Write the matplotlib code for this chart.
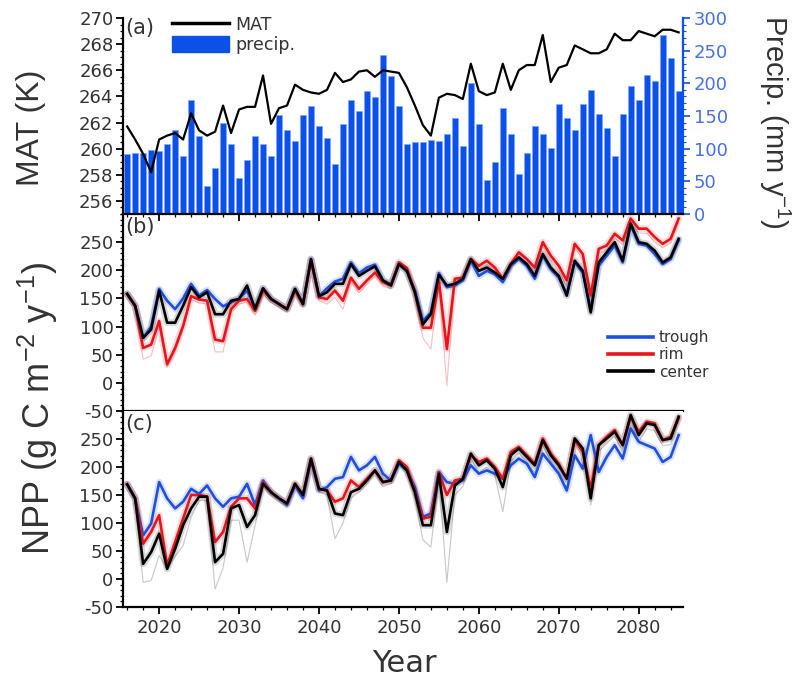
import numpy as np
import matplotlib
matplotlib.use("Agg")
import matplotlib.pyplot as plt
from matplotlib.lines import Line2D
from matplotlib.patches import Patch
from matplotlib.ticker import MultipleLocator

plt.rcParams['font.family'] = ['DejaVu Sans']
plt.rcParams['axes.unicode_minus'] = False
plt.rcParams['mathtext.default'] = 'regular'

years = np.arange(2016, 2086)

mat = [261.7, 260.7, 259.6, 258.2, 260.7, 261.0, 261.2, 260.7, 262.7, 261.4,
       261.0, 261.3, 263.3, 261.2, 263.0, 263.2, 263.2, 265.6, 261.9, 263.1,
       263.3, 264.9, 264.5, 264.3, 264.2, 264.5, 265.8, 265.1, 265.3, 265.9,
       266.0, 265.5, 266.0, 265.9, 265.8, 264.7, 263.3, 261.8, 261.0, 263.9,
       264.2, 264.1, 263.8, 266.5, 264.4, 264.1, 264.3, 266.5, 264.5, 266.0,
       266.4, 266.4, 268.7, 265.1, 266.2, 266.4, 267.9, 267.6, 267.3, 267.3,
       267.6, 268.8, 268.3, 268.3, 269.0, 268.8, 268.6, 269.1, 269.1, 268.9]

precip = [92, 94, 94, 98, 96, 107, 129, 89, 175, 119,
          43, 70, 140, 107, 55, 83, 120, 107, 89, 151,
          129, 112, 151, 166, 135, 117, 76, 138, 175, 157,
          188, 179, 243, 211, 166, 107, 110, 110, 113, 111,
          123, 147, 104, 200, 138, 52, 79, 162, 122, 61,
          94, 135, 123, 101, 169, 147, 129, 169, 190, 153,
          131, 89, 153, 196, 175, 212, 203, 274, 239, 188]

trough_b = [158, 137, 80, 100, 167, 146, 131, 150, 176, 155,
            165, 149, 136, 143, 150, 164, 133, 168, 149, 140,
            131, 167, 140, 220, 154, 168, 180, 185, 214, 195,
            205, 210, 182, 175, 211, 198, 165, 110, 125, 195,
            170, 173, 182, 217, 190, 199, 193, 179, 208, 220,
            208, 185, 226, 202, 187, 158, 214, 196, 131, 208,
            226, 244, 214, 280, 247, 244, 229, 211, 220, 253]
rim_b = [158, 137, 62, 68, 110, 33, 62, 101, 154, 148,
         146, 77, 74, 131, 146, 149, 128, 164, 149, 140,
         131, 164, 140, 217, 152, 149, 164, 146, 187, 167,
         182, 196, 179, 173, 214, 204, 161, 98, 98, 182,
         60, 185, 187, 220, 208, 217, 205, 185, 211, 232,
         220, 205, 250, 226, 208, 182, 247, 229, 155, 238,
         244, 265, 253, 292, 274, 274, 259, 247, 256, 292]
center_b = [158, 137, 80, 95, 164, 107, 107, 137, 170, 152,
            161, 122, 122, 146, 149, 173, 131, 168, 149, 140,
            131, 167, 140, 220, 154, 161, 176, 176, 211, 190,
            199, 207, 182, 173, 211, 199, 161, 104, 122, 192,
            173, 176, 185, 220, 199, 205, 196, 185, 211, 223,
            211, 190, 229, 205, 190, 155, 217, 199, 125, 214,
            232, 250, 217, 283, 250, 247, 235, 214, 223, 256]
rim_lo_b = [155, 132, 42, 48, 100, 28, 55, 95, 148, 142,
            140, 55, 55, 125, 140, 143, 120, 158, 143, 135,
            126, 158, 135, 212, 146, 140, 152, 131, 180, 160,
            176, 190, 172, 167, 208, 198, 152, 80, 60, 175,
            -5, 178, 180, 214, 200, 210, 198, 178, 204, 225,
            213, 198, 243, 218, 200, 172, 240, 220, 140, 230,
            236, 258, 245, 285, 266, 266, 250, 240, 248, 285]

trough_c = [169, 144, 78, 99, 173, 144, 126, 138, 161, 152,
            167, 144, 129, 144, 147, 170, 132, 176, 155, 144,
            132, 167, 144, 212, 158, 164, 179, 182, 218, 194,
            203, 218, 188, 176, 206, 194, 164, 111, 117, 191,
            173, 170, 176, 203, 188, 194, 188, 179, 203, 215,
            206, 182, 224, 206, 188, 158, 221, 197, 257, 191,
            218, 239, 215, 269, 245, 239, 233, 209, 218, 257]
rim_c = [169, 144, 63, 84, 114, 24, 66, 108, 150, 150,
         147, 66, 84, 129, 144, 144, 126, 173, 155, 144,
         135, 170, 150, 215, 161, 158, 138, 144, 176, 164,
         179, 194, 173, 176, 212, 200, 158, 108, 111, 191,
         150, 176, 179, 221, 209, 215, 200, 179, 227, 236,
         221, 206, 251, 224, 206, 179, 248, 227, 161, 239,
         254, 266, 239, 290, 263, 281, 278, 248, 254, 287]
center_c = [169, 144, 27, 48, 81, 18, 54, 96, 126, 147,
            147, 30, 45, 126, 132, 93, 114, 170, 155, 144,
            135, 170, 150, 215, 161, 158, 117, 114, 155, 161,
            176, 194, 173, 176, 209, 194, 155, 96, 96, 188,
            84, 167, 179, 224, 203, 212, 197, 164, 221, 233,
            218, 203, 248, 221, 203, 179, 251, 233, 144, 239,
            251, 263, 239, 293, 257, 278, 275, 248, 251, 290]
center_lo_c = [165, 138, -6, -3, 42, 18, 40, 60, 110, 140,
               140, -18, 20, 105, 105, 30, 95, 165, 150, 140,
               128, 165, 145, 210, 155, 150, 72, 100, 145, 155,
               170, 190, 165, 170, 205, 188, 145, 70, 57, 180,
               -6, 150, 165, 215, 190, 200, 185, 120, 210, 225,
               208, 190, 240, 210, 190, 160, 240, 220, 132, 228,
               242, 255, 228, 285, 245, 268, 265, 238, 240, 282]

BLUE = '#1f4fe0'
RED = '#e8141c'
BAR = '#0b50e8'
TXT = '#333333'
LABEL_FONT = ['Liberation Sans', 'DejaVu Sans']

fig = plt.figure(figsize=(8.05, 6.84), dpi=100)
L, R = 0.153, 0.848
bounds = [0.1126, 0.3991, 0.6871, 0.9737]

ax_a = fig.add_axes([L, bounds[2], R - L, bounds[3] - bounds[2]])
ax_b = fig.add_axes([L, bounds[1], R - L, bounds[2] - bounds[1]])
ax_c = fig.add_axes([L, bounds[0], R - L, bounds[1] - bounds[0]])
ax_p = ax_a.twinx()

# Panel (a)
ax_p.bar(years, precip, width=0.78, color=BAR, edgecolor='#7fa8ff', linewidth=0.4)
ax_a.plot(years, mat, color='black', lw=1.6)
ax_a.set_zorder(ax_p.get_zorder() + 1)
ax_a.patch.set_visible(False)
ax_a.set_ylim(255, 270)
ax_a.set_yticks(np.arange(256, 271, 2))
ax_a.yaxis.set_minor_locator(MultipleLocator(0.5))
ax_p.set_ylim(0, 300)
ax_p.set_yticks(np.arange(0, 301, 50))
ax_p.yaxis.set_minor_locator(MultipleLocator(10))
ax_p.tick_params(axis='y', which='both', colors=BAR, labelcolor='#4a6ee6', labelsize=13, direction='out')
ax_p.tick_params(axis='y', which='major', length=5, width=1.2, pad=3)
ax_p.tick_params(axis='y', which='minor', length=2.5, width=0.8)
ax_p.spines['right'].set_color(BAR)
ax_p.spines['right'].set_linewidth(1.6)

# Panels (b), (c)
def npp_panel(ax, trough, rim, center, faint, faint_color):
    ax.plot(years, faint, color=faint_color, lw=0.8, alpha=0.5)
    for series, col in ((trough, BLUE), (rim, RED), (center, 'black')):
        ax.plot(years, series, color=col, lw=5, alpha=0.15, solid_capstyle='round')
    ax.plot(years, trough, color=BLUE, lw=1.9, label='trough')
    ax.plot(years, rim, color=RED, lw=1.9, label='rim')
    ax.plot(years, center, color='black', lw=1.9, label='center')
    ax.set_ylim(-50, 300)
    ax.set_yticks(np.arange(-50, 251, 50))
    ax.yaxis.set_minor_locator(MultipleLocator(10))

npp_panel(ax_b, trough_b, rim_b, center_b, rim_lo_b, '#f08080')
npp_panel(ax_c, trough_c, rim_c, center_c, center_lo_c, '#909090')

for ax in (ax_a, ax_b, ax_c):
    ax.set_xlim(2015.5, 2085.5)
    ax.xaxis.set_major_locator(MultipleLocator(10))
    ax.xaxis.set_minor_locator(MultipleLocator(2))
    ax.tick_params(axis='both', which='both', direction='out', labelsize=13, labelcolor=TXT)
    ax.tick_params(axis='both', which='major', length=5, width=1.3)
    ax.tick_params(axis='both', which='minor', length=2.5, width=0.9)
    ax.tick_params(axis='y', which='major', pad=2)
    for s in ax.spines.values():
        s.set_linewidth(1.6)
    ax.spines['top'].set_visible(False)
    ax.spines['right'].set_visible(False)
for ax in (ax_a, ax_b):
    ax.tick_params(axis='x', labelbottom=False)
ax_p.spines['top'].set_visible(False)
ax_p.spines['left'].set_visible(False)
ax_p.spines['bottom'].set_visible(False)
ax_c.tick_params(axis='x', which='major', pad=4)

# Panel labels
ax_a.text(0.004, 1.0, '(a)', transform=ax_a.transAxes, ha='left', va='top', fontsize=15, color=TXT)
ax_b.text(0.004, 0.985, '(b)', transform=ax_b.transAxes, ha='left', va='top', fontsize=15, color=TXT)
ax_c.text(0.004, 0.985, '(c)', transform=ax_c.transAxes, ha='left', va='top', fontsize=15, color=TXT)

# Legend (a)
handles_a = [Line2D([0], [0], color='black', lw=2.5), Patch(facecolor=BAR, edgecolor=BAR)]
leg_a = ax_a.legend(handles_a, ['MAT', 'precip.'], loc='upper left', bbox_to_anchor=(0.075, 1.045),
                    frameon=False, fontsize=12.5, handlelength=3.3, handleheight=1.0,
                    handletextpad=0.35, labelspacing=0.1, borderaxespad=0.0)
for t in leg_a.get_texts():
    t.set_color(TXT)

# Legend (b)
leg_b = ax_b.legend(loc='center left', bbox_to_anchor=(0.855, 0.285), frameon=False, fontsize=11,
                    handlelength=3.0, handletextpad=0.35, labelspacing=0.15, borderaxespad=0.0)
for t in leg_b.get_texts():
    t.set_color(TXT)
for h in leg_b.legend_handles:
    h.set_linewidth(2.6)

# Axis labels
fig.text(0.039, 1 - 128 / 684, 'MAT (K)', rotation=90, ha='center', va='center', fontsize=23,
         color=TXT, family=LABEL_FONT)
fig.text(0.962, 1 - 122 / 684, 'Precip. (mm y$^{-1}$)', rotation=270, ha='center', va='center',
         fontsize=21, color=TXT, family=LABEL_FONT)
fig.text(0.047, 1 - 408 / 684, 'NPP (g C m$^{-2}$ y$^{-1}$)', rotation=90, ha='center', va='center',
         fontsize=26, color=TXT, family=LABEL_FONT)
fig.text(0.503, 1 - 663 / 684, 'Year', ha='center', va='center', fontsize=22, color=TXT)

fig.savefig('out.png', dpi=100)
